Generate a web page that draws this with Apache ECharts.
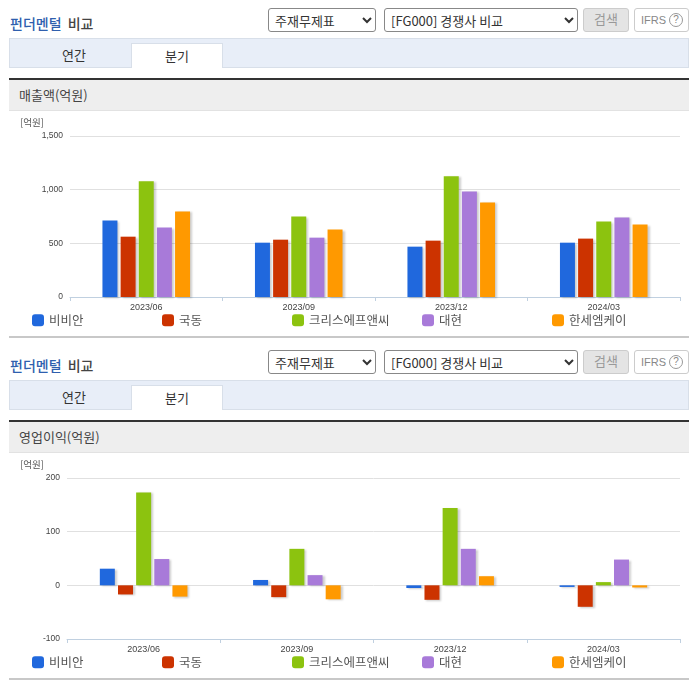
<!DOCTYPE html>
<html>
<head>
<meta charset="utf-8">
<script src="https://cdn.jsdelivr.net/npm/echarts@6/dist/echarts.min.js"></script>
<style>
html, body { margin: 0; padding: 0; background: #fff; }
body { position: relative; width: 696px; height: 684px; overflow: hidden; font-family: "Noto Sans CJK KR", sans-serif; color: #444; }
.panel { position: absolute; left: 0; width: 696px; height: 342px; }
.panel > * { position: absolute; box-sizing: border-box; }
.head { left: 10px; top: 13px; font-size: 14px; font-weight: 500; line-height: 20px; color: #444; word-spacing: 3px; }
.head b { color: #2f5fae; font-weight: 500; }
select { top: 8px; height: 24px; background: #fff; border: 1px solid #888; border-radius: 3px; font: 13px "Noto Sans CJK KR", sans-serif; color: #333; padding-left: 2px; }
.sel1 { left: 268px; width: 108px; }
.sel2 { left: 384px; width: 194px; }
.btn { left: 583px; top: 8px; width: 46px; height: 24px; background: #e4e4e4; border: 1px solid #ccc; border-radius: 3px; text-align: center; font-size: 13px; line-height: 20px; color: #999; }
.ifrs { left: 634px; top: 8px; width: 55px; height: 24px; background: #fff; border: 1px solid #ccc; border-radius: 3px; font: 11px "Liberation Sans", sans-serif; line-height: 22px; color: #888; padding-left: 6px; }
.ifrs i { position: absolute; left: 34px; top: 4px; width: 14px; height: 14px; border: 1px solid #999; border-radius: 50%; box-sizing: border-box; font-style: normal; font-size: 10px; line-height: 12px; text-align: center; }
.tabs { left: 9px; top: 38px; width: 680px; height: 30px; background: #e8eef8; border: 1px solid #d8dfe9; }
.tab { top: 43px; height: 25px; text-align: center; font-size: 13px; line-height: 23px; color: #333; }
.tab1 { left: 17px; width: 114px; }
.tab2 { left: 131px; width: 92px; background: #fff; border: 1px solid #d8dfe9; border-bottom: 0; }
.sub { left: 9px; top: 78px; width: 680px; height: 33px; background: #eee; border-top: 2px solid #333; border-bottom: 1px solid #e2e2e2; font-size: 13px; line-height: 29px; padding-left: 10px; color: #444; }
.chart { left: 0; top: 112px; width: 696px; height: 224px; }
.foot { left: 9px; top: 336px; width: 680px; height: 2px; background: #c8c8c8; }
</style>
</head>
<body>
<div class="panel" id="p1" style="top:0"></div>
<div class="panel" id="p2" style="top:342px"></div>
<script>
var names = ['비비안', '국동', '크리스에프앤씨', '대현', '한세엠케이'];
var colors = ['#2068dd', '#cc3300', '#8cc30f', '#a87ad9', '#ff9900'];
var periods = ['2023/06', '2023/09', '2023/12', '2024/03'];

var salesBBA = [712, 506, 469, 506];
var salesKD = [562, 534, 525, 544];
var salesCRS = [1078, 750, 1125, 703];
var salesDH = [647, 553, 984, 741];
var salesHS = [797, 628, 881, 675];

var profitBBA = [31, 10, -5, -3];
var profitKD = [-17, -22, -27, -40];
var profitCRS = [173, 68, 144, 6];
var profitDH = [49, 19, 68, 48];
var profitHS = [-21, -26, 17, -4];

function panel(id, title, data, axis, left) {
    var box = document.getElementById(id);
    box.innerHTML =
        '<div class="head"><b>펀더멘털</b> 비교</div>' +
        '<select class="sel1"><option>주재무제표</option></select>' +
        '<select class="sel2"><option>[FG000] 경쟁사 비교</option></select>' +
        '<div class="btn">검색</div>' +
        '<div class="ifrs">IFRS<i>?</i></div>' +
        '<div class="tabs"></div>' +
        '<div class="tab tab1">연간</div>' +
        '<div class="tab tab2">분기</div>' +
        '<div class="sub">' + title + '</div>' +
        '<div class="chart"></div>' +
        '<div class="foot"></div>';

    var myChart = echarts.init(box.querySelector('.chart'));
    myChart.setOption({
        animation: false,
        title: {
            text: '[억원]',
            left: 20,
            top: 6,
            padding: 0,
            textStyle: { fontSize: 9.5, fontWeight: 'normal', color: '#555', fontFamily: 'Noto Sans CJK KR' }
        },
        // 범례 간격이 고정이라 항목마다 따로 둔다
        legend: names.map(function (n, i) {
            return {
                data: [n],
                left: 32 + 130 * i,
                top: 202,
                padding: 0,
                itemWidth: 12,
                itemHeight: 12,
                icon: 'roundRect',
                selectedMode: false,
                textStyle: { fontSize: 12.5, color: '#555', fontFamily: 'Noto Sans CJK KR' }
            };
        }),
        grid: { left: left, right: 16, top: 24, height: 161, containLabel: false },
        xAxis: {
            type: 'category',
            data: periods,
            axisLine: { onZero: false, lineStyle: { color: '#c0d0e0' } },
            axisTick: { show: true, length: 4, lineStyle: { color: '#c0d0e0' } },
            axisLabel: { fontSize: 9, margin: 6, color: '#444', fontFamily: 'Liberation Sans' }
        },
        yAxis: {
            type: 'value',
            min: axis.min,
            max: axis.max,
            interval: axis.step,
            axisLine: { show: false },
            axisTick: { show: false },
            splitLine: { lineStyle: { color: '#e0e0e0' } },
            axisLabel: { fontSize: 8.5, margin: 7, color: '#444', fontFamily: 'Liberation Sans' }
        },
        series: names.map(function (n, i) {
            return {
                name: n,
                type: 'bar',
                data: data[i],
                barWidth: 15,
                barGap: '21%',
                itemStyle: {
                    color: colors[i],
                    shadowColor: 'rgba(0, 0, 0, 0.2)',
                    shadowBlur: 2,
                    shadowOffsetX: 2,
                    shadowOffsetY: 1
                }
            };
        })
    });
}

panel('p1', '매출액(억원)', [salesBBA, salesKD, salesCRS, salesDH, salesHS], { min: 0, max: 1500, step: 500 }, 70);
panel('p2', '영업이익(억원)', [profitBBA, profitKD, profitCRS, profitDH, profitHS], { min: -100, max: 200, step: 100 }, 67);
</script>
</body>
</html>
